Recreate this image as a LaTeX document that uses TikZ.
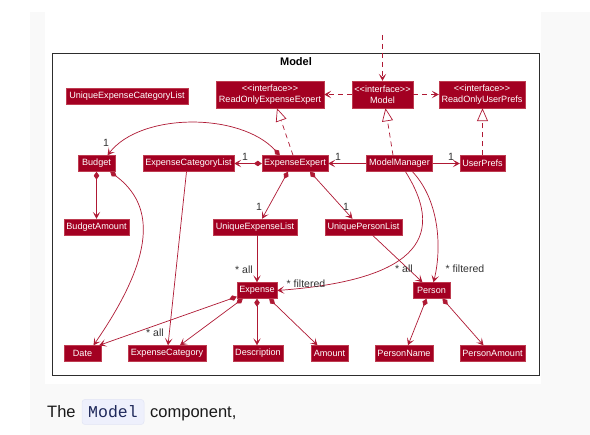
\documentclass[tikz,border=0pt]{standalone}
\usepackage{fontspec}
\setmainfont{Liberation Sans}
\setsansfont{Liberation Sans}
\setmonofont{Liberation Mono}
\usetikzlibrary{arrows.meta,calc}
\definecolor{clsfill}{RGB}{163,0,34}
\definecolor{clsborder}{RGB}{190,60,80}
\definecolor{edgec}{RGB}{175,25,52}
\definecolor{pagegray}{RGB}{249,249,249}
\definecolor{codebg}{RGB}{238,240,252}
\definecolor{codeborder}{RGB}{226,229,245}
\definecolor{codefg}{RGB}{30,40,90}
\definecolor{framec}{RGB}{45,45,45}
\tikzset{
  cls/.style={draw=clsborder, line width=0.4pt, fill=clsfill, text=white,
    font=\fontsize{9.1}{10.8}\selectfont\sffamily, minimum height=16pt, inner sep=0pt, align=center},
  iface/.style={cls, minimum height=27pt},
  umltip/.tip={Stealth[length=7pt,width=7.5pt,inset=3.5pt]},
  assoc/.style={draw=edgec, line width=0.7pt, -umltip},
  comp/.style={draw=edgec, line width=0.7pt, {Diamond[length=8pt,width=5.5pt]}-umltip},
  dep/.style={assoc, dash pattern=on 5pt off 4pt},
  real/.style={draw=edgec, line width=0.7pt, dash pattern=on 5pt off 4pt,
    -{Triangle[length=13pt,width=11pt,fill=white]}},
  lbl/.style={font=\fontsize{10.5}{12}\selectfont\sffamily, text=black!80, inner sep=0pt},
  ttlstyle/.style={font=\fontsize{11}{13}\selectfont\sffamily\bfseries, text=black, inner sep=0pt},
  bodytext/.style={font=\fontsize{16.5}{20}\selectfont\sffamily, text=black!90, inner sep=0pt, anchor=base west},
}
\begin{document}
\begin{tikzpicture}[x=1pt,y=-1pt]
\useasboundingbox (0,0) rectangle (590,435);
\fill[white] (0,0) rectangle (590,435);
\fill[pagegray] (30,12) rectangle (590,435);
\fill[white] (45,12) rectangle (541,384);

% frame
\draw[framec, line width=1pt] (52,54) rectangle (539,376);
\node[ttlstyle] (ttl) at (296,62) {Model};

% classes
\node[cls, minimum width=122pt] (uecl) at (127,96) {UniqueExpenseCategoryList};
\node[iface, minimum width=108pt] (roee) at (270,94.5) {<{}<interface>{}>\\ReadOnlyExpenseExpert};
\node[iface, minimum width=61pt] (model) at (382.5,94.5) {<{}<interface>{}>\\Model};
\node[iface, minimum width=86pt] (roup) at (482,94.5) {<{}<interface>{}>\\ReadOnlyUserPrefs};

\node[cls, minimum width=37pt] (budget) at (96.5,163.5) {Budget};
\node[cls, minimum width=91pt] (ecl) at (188.5,163.5) {ExpenseCategoryList};
\node[cls, minimum width=66pt] (ee) at (295,163.5) {ExpenseExpert};
\node[cls, minimum width=66pt] (mm) at (399.5,163.5) {ModelManager};
\node[cls, minimum width=45pt] (up) at (482.5,163.5) {UserPrefs};

\node[cls, minimum width=65pt] (ba) at (96.5,227) {BudgetAmount};
\node[cls, minimum width=84pt] (uel) at (255,227) {UniqueExpenseList};
\node[cls, minimum width=77pt] (upl) at (363.5,227) {UniquePersonList};

\node[cls, minimum width=40pt] (exp) at (257,290.5) {Expense};
\node[cls, minimum width=37pt] (person) at (431.5,290.5) {Person};

\node[cls, minimum width=37pt] (date) at (82.5,353.5) {Date};
\node[cls, minimum width=78pt] (ec) at (167,353.5) {ExpenseCategory};
\node[cls, minimum width=50pt] (desc) at (258,353.5) {Description};
\node[cls, minimum width=37pt] (amount) at (329.5,353.5) {Amount};
\node[cls, minimum width=58pt] (pname) at (404,353.5) {PersonName};
\node[cls, minimum width=65pt] (pamount) at (492.5,353.5) {PersonAmount};

% interfaces
\coordinate (topc) at (382.5,35);
\draw[dep] (topc) -- (model.north);
\draw[dep] (model.west) -- (roee.east);
\draw[dep] (model.east) -- (roup.west);
\draw[real] ($(ee.north)+(-2,0)$) -- ($(roee.south)+(7,0)$);
\draw[real] ($(mm.north)+(-6.5,0)$) -- ($(model.south)+(3,0)$);
\draw[real] (up.north) -- (up.north |- roup.south);

% associations row 2
\draw[comp] ($(ee.north west)+(18,0)$) .. controls +(-40,-43) and +(33,-43) .. ($(budget.north)+(11,0)$);
\node[lbl] (l1) at (106,143) {1};
\draw[comp] (ee.west) -- (ecl.east);
\node[lbl] (l2) at (245,157) {1};
\draw[assoc] (mm.west) -- (ee.east);
\node[lbl] (l3) at (338,157) {1};
\draw[assoc] (mm.east) -- (up.west);
\node[lbl] (l4) at (451,157) {1};

\draw[comp] ($(ee.south)+(-7,0)$) -- ($(uel.north)+(7,0)$);
\node[lbl] (l5) at (259,207) {1};
\draw[comp] ($(ee.south)+(15,0)$) -- ($(upl.north)+(-11,0)$);
\node[lbl] (l6) at (346,207) {1};

\draw[comp] (budget.south) -- (ba.north);
\draw[comp] ($(budget.south east)+(-5,0)$) .. controls +(45,34) and +(62,-90) .. ($(date.north)+(11,0)$);
\draw[assoc] ($(ecl.south)+(-2,0)$) -- ($(ec.north)+(1,0)$);

% lists to elements
\draw[assoc] (exp.north |- uel.south) -- (exp.north);
\node[lbl] (l7) at (244,270) {* all};
\draw[assoc] ($(mm.south)+(6,0)$) .. controls +(44,70) and +(132,-10) .. (exp.east);
\node[lbl] (l8) at (306,284) {* filtered};
\draw[assoc] ($(mm.south)+(13,0)$) .. controls +(28,30) and +(8,-32) .. ($(person.north)+(2,0)$);
\node[lbl] (l9) at (465,269) {* filtered};
\draw[assoc] ($(upl.south)+(9,0)$) -- ($(person.north)+(-9,0)$);
\node[lbl] (l10) at (404,269) {* all};

% expense parts
\draw[comp] ($(exp.south west)+(0,-2)$) -- ($(date.north east)+(-2,0)$);
\node[lbl] (l11) at (155,333) {* all};
\draw[comp] ($(exp.south west)+(6,0)$) -- ($(ec.north)+(13,0)$);
\draw[comp] (exp.south) -- (exp.south |- desc.north);
\draw[comp] ($(exp.south east)+(-8,0)$) -- ($(amount.north)+(-12,0)$);
\draw[comp] ($(person.south)+(-5,0)$) -- ($(pname.north)+(4,0)$);
\draw[comp] ($(person.south)+(11,0)$) -- ($(pamount.north)+(-9,0)$);

% caption
\node[bodytext] (cap1) at (47,418) {The};
\node[draw=codeborder, fill=codebg, rounded corners=3pt, line width=0.5pt,
  minimum width=62pt, minimum height=25pt, inner sep=0pt,
  font=\fontsize{16.5}{20}\selectfont\ttfamily, text=codefg] (code) at (113,412) {Model};
\node[bodytext] (cap2) at (150,418) {component,};
\end{tikzpicture}
\end{document}
